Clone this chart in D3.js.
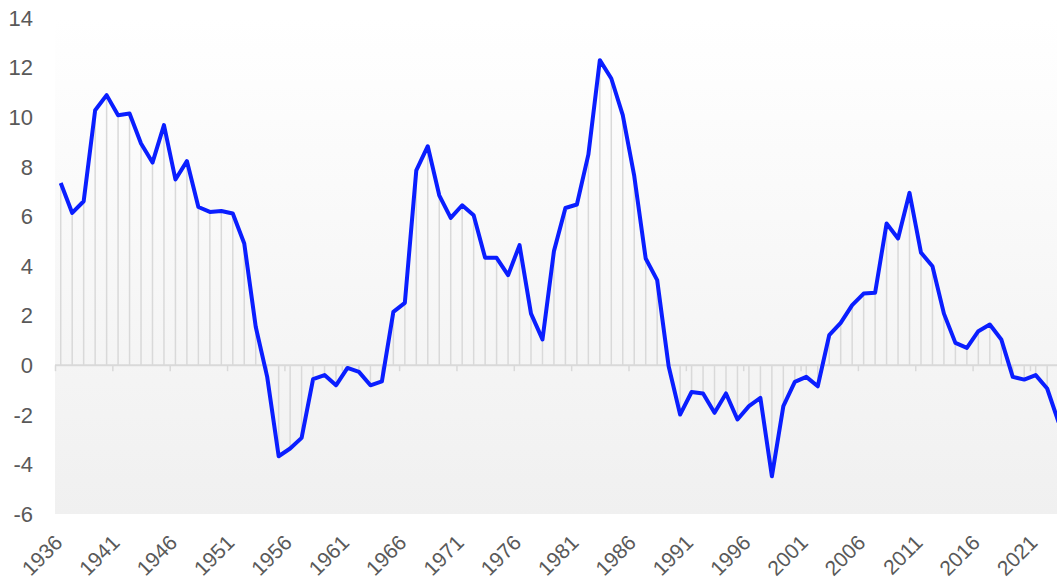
<!DOCTYPE html>
<html>
<head>
<meta charset="utf-8">
<script src="https://cdn.jsdelivr.net/npm/d3@7"></script>
<style>
  body { margin: 0; background: #fff; }
  svg { display: block; font-family: "Liberation Sans", Arial, sans-serif; }
</style>
</head>
<body>
<svg id="chart" width="1057" height="584"></svg>
<script>
  // years 1936..2023
  var years = d3.range(1936, 2024);
  var values = [
    7.35, 6.14, 6.61, 10.28, 10.89, 10.08, 10.15, 8.94, 8.17, 9.68,
    7.49, 8.23, 6.38, 6.18, 6.22, 6.12, 4.91, 1.55, -0.47, -3.67,
    -3.36, -2.93, -0.56, -0.40, -0.81, -0.11, -0.27, -0.81, -0.65, 2.15,
    2.51, 7.86, 8.83, 6.85, 5.94, 6.45, 6.05, 4.33, 4.33, 3.63,
    4.84, 2.08, 1.04, 4.60, 6.34, 6.48, 8.49, 12.30, 11.56, 10.08,
    7.63, 4.30, 3.43, -0.04, -1.99, -1.08, -1.14, -1.92, -1.14, -2.19,
    -1.65, -1.32, -4.48, -1.65, -0.67, -0.47, -0.85, 1.21, 1.71, 2.42,
    2.89, 2.92, 5.71, 5.11, 6.95, 4.54, 3.99, 2.08, 0.90, 0.70,
    1.37, 1.64, 1.04, -0.47, -0.58, -0.40, -0.94, -2.30
  ];
  var yTicks = [-6, -4, -2, 0, 2, 4, 6, 8, 10, 12, 14];
  var labelYears = years.filter(function (yr) { return (yr - 1936) % 5 === 0; });

  (function () {
    'use strict';

    var data = years.map(function (yr, i) { return { year: yr, value: values[i] }; });

    var svg = d3.select('#chart');
    var plotLeft = 55, plotTop = 18, plotBottom = 514;
    var bandW = 11.47;

    var x = d3.scaleBand()
      .domain(years)
      .range([plotLeft, plotLeft + bandW * years.length])
      .padding(0);

    var y = d3.scaleLinear()
      .domain([-6, 14])
      .range([plotBottom, plotTop]);

    var mid = function (d) { return x(d) + x.bandwidth() / 2; };

    // background gradient
    var grad = svg.append('defs').append('linearGradient')
      .attr('id', 'bg')
      .attr('x1', 0).attr('y1', 0).attr('x2', 0).attr('y2', 1);
    grad.append('stop').attr('offset', '0%').attr('stop-color', '#ffffff');
    grad.append('stop').attr('offset', '100%').attr('stop-color', '#f0f0f0');

    svg.append('rect')
      .attr('x', plotLeft)
      .attr('y', plotTop)
      .attr('width', x.range()[1] - plotLeft)
      .attr('height', plotBottom - plotTop)
      .attr('fill', 'url(#bg)');

    // y labels
    svg.append('g')
      .selectAll('text')
      .data(yTicks)
      .enter().append('text')
      .attr('x', 33)
      .attr('y', function (d) { return y(d); })
      .attr('dy', '0.35em')
      .style('text-anchor', 'end')
      .style('font-size', '22px')
      .style('fill', '#595959')
      .text(function (d) { return d; });

    // drop lines
    svg.append('g')
      .selectAll('line')
      .data(data)
      .enter().append('line')
      .attr('x1', function (d) { return mid(d.year); })
      .attr('x2', function (d) { return mid(d.year); })
      .attr('y1', y(0))
      .attr('y2', function (d) { return y(d.value); })
      .style('stroke', '#d9d9d9')
      .style('stroke-width', 1.5);

    // zero axis with ticks every 5 years
    svg.append('line')
      .attr('x1', plotLeft)
      .attr('x2', x.range()[1])
      .attr('y1', y(0))
      .attr('y2', y(0))
      .style('stroke', '#d9d9d9')
      .style('stroke-width', 2);

    svg.append('g')
      .selectAll('line')
      .data(labelYears)
      .enter().append('line')
      .attr('x1', function (d) { return x(d) + 0.5; })
      .attr('x2', function (d) { return x(d) + 0.5; })
      .attr('y1', y(0))
      .attr('y2', y(0) + 6)
      .style('stroke', '#d9d9d9')
      .style('stroke-width', 1.5);

    // x labels, rotated
    svg.append('g')
      .selectAll('text')
      .data(labelYears)
      .enter().append('text')
      .attr('transform', function (d) {
        return 'translate(' + (mid(d) + 3) + ',' + (plotBottom + 30) + ') rotate(-45)';
      })
      .style('text-anchor', 'end')
      .style('font-size', '21px')
      .style('fill', '#595959')
      .text(function (d) { return d; });

    // main line
    var line = d3.line()
      .x(function (d) { return mid(d.year); })
      .y(function (d) { return y(d.value); });

    svg.append('path')
      .datum(data)
      .attr('d', line)
      .style('fill', 'none')
      .style('stroke', '#0a1eff')
      .style('stroke-width', 4)
      .style('stroke-linejoin', 'round');
  }());
</script>
</body>
</html>
